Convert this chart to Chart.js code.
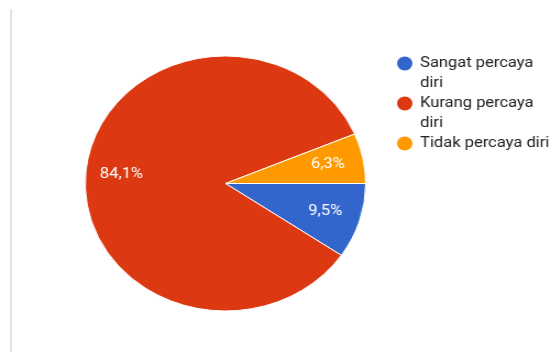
<!DOCTYPE html>
<html>
<head>
<meta charset="utf-8">
<script src="https://cdn.jsdelivr.net/npm/chart.js@4.4.0/dist/chart.umd.min.js"></script>
<style>
  html, body { margin: 0; padding: 0; background: #ffffff; }
  #wrap { position: relative; width: 551px; height: 352px; overflow: hidden; }
  #stage { position: absolute; left: 0; top: 0; width: 501px; height: 352px;
           transform: scaleX(1.0998); transform-origin: 0 0; }
  #edge { position: absolute; left: 10px; top: 9px; width: 2px; height: 343px; background: #e3e3e3; }
</style>
</head>
<body>
<div id="wrap">
  <div id="edge"></div>
  <div id="stage"><canvas id="c" width="501" height="352" style="width:501px;height:352px"></canvas></div>
</div>
<script>
// ---- data ----
const categories = ['Sangat percaya diri', 'Kurang percaya diri', 'Tidak percaya diri'];
const legendLines = [['Sangat percaya', 'diri'], ['Kurang percaya', 'diri'], ['Tidak percaya diri']];
const counts = [6, 53, 4];
const colors = ['#3366CC', '#DC3912', '#FF9900'];

const total = counts.reduce((a, b) => a + b, 0);
function pctText(v) { return (v / total * 100).toFixed(1).replace('.', ',') + '%'; }

const sliceLabels = {
  id: 'sliceLabels',
  afterDatasetsDraw(chart) {
    const ctx = chart.ctx;
    const meta = chart.getDatasetMeta(0);
    ctx.save();
    ctx.font = '15px Roboto';
    ctx.fillStyle = '#ffffff';
    ctx.textAlign = 'center';
    ctx.textBaseline = 'middle';
    meta.data.forEach((arc, i) => {
      const p = arc.getProps(['x', 'y', 'startAngle', 'endAngle', 'outerRadius'], true);
      const mid = (p.startAngle + p.endAngle) / 2;
      const r = p.outerRadius * 0.745;
      ctx.fillText(pctText(counts[i]), p.x + Math.cos(mid) * r, p.y + Math.sin(mid) * r);
    });
    ctx.restore();
  }
};

const sideLegend = {
  id: 'sideLegend',
  afterDraw(chart) {
    const ctx = chart.ctx;
    ctx.save();
    ctx.font = '15px Roboto';
    ctx.textBaseline = 'middle';
    ctx.textAlign = 'left';
    let y = 63.5;
    legendLines.forEach((lines, i) => {
      ctx.fillStyle = colors[i];
      ctx.beginPath();
      ctx.arc(368, y, 7, 0, Math.PI * 2);
      ctx.fill();
      ctx.fillStyle = '#222222';
      lines.forEach((ln, k) => ctx.fillText(ln, 382, y + k * 20));
      y += lines.length * 20;
    });
    ctx.restore();
  }
};

new Chart(document.getElementById('c'), {
  type: 'pie',
  data: {
    labels: categories,
    datasets: [{
      data: counts,
      backgroundColor: colors,
      borderColor: '#ffffff',
      borderWidth: 1
    }]
  },
  options: {
    responsive: false,
    animation: false,
    rotation: 90,
    layout: { padding: { left: 77, right: 168, top: 55, bottom: 40 } },
    plugins: {
      legend: { display: false },
      tooltip: { enabled: false }
    }
  },
  plugins: [sliceLabels, sideLegend]
});
</script>
</body>
</html>
